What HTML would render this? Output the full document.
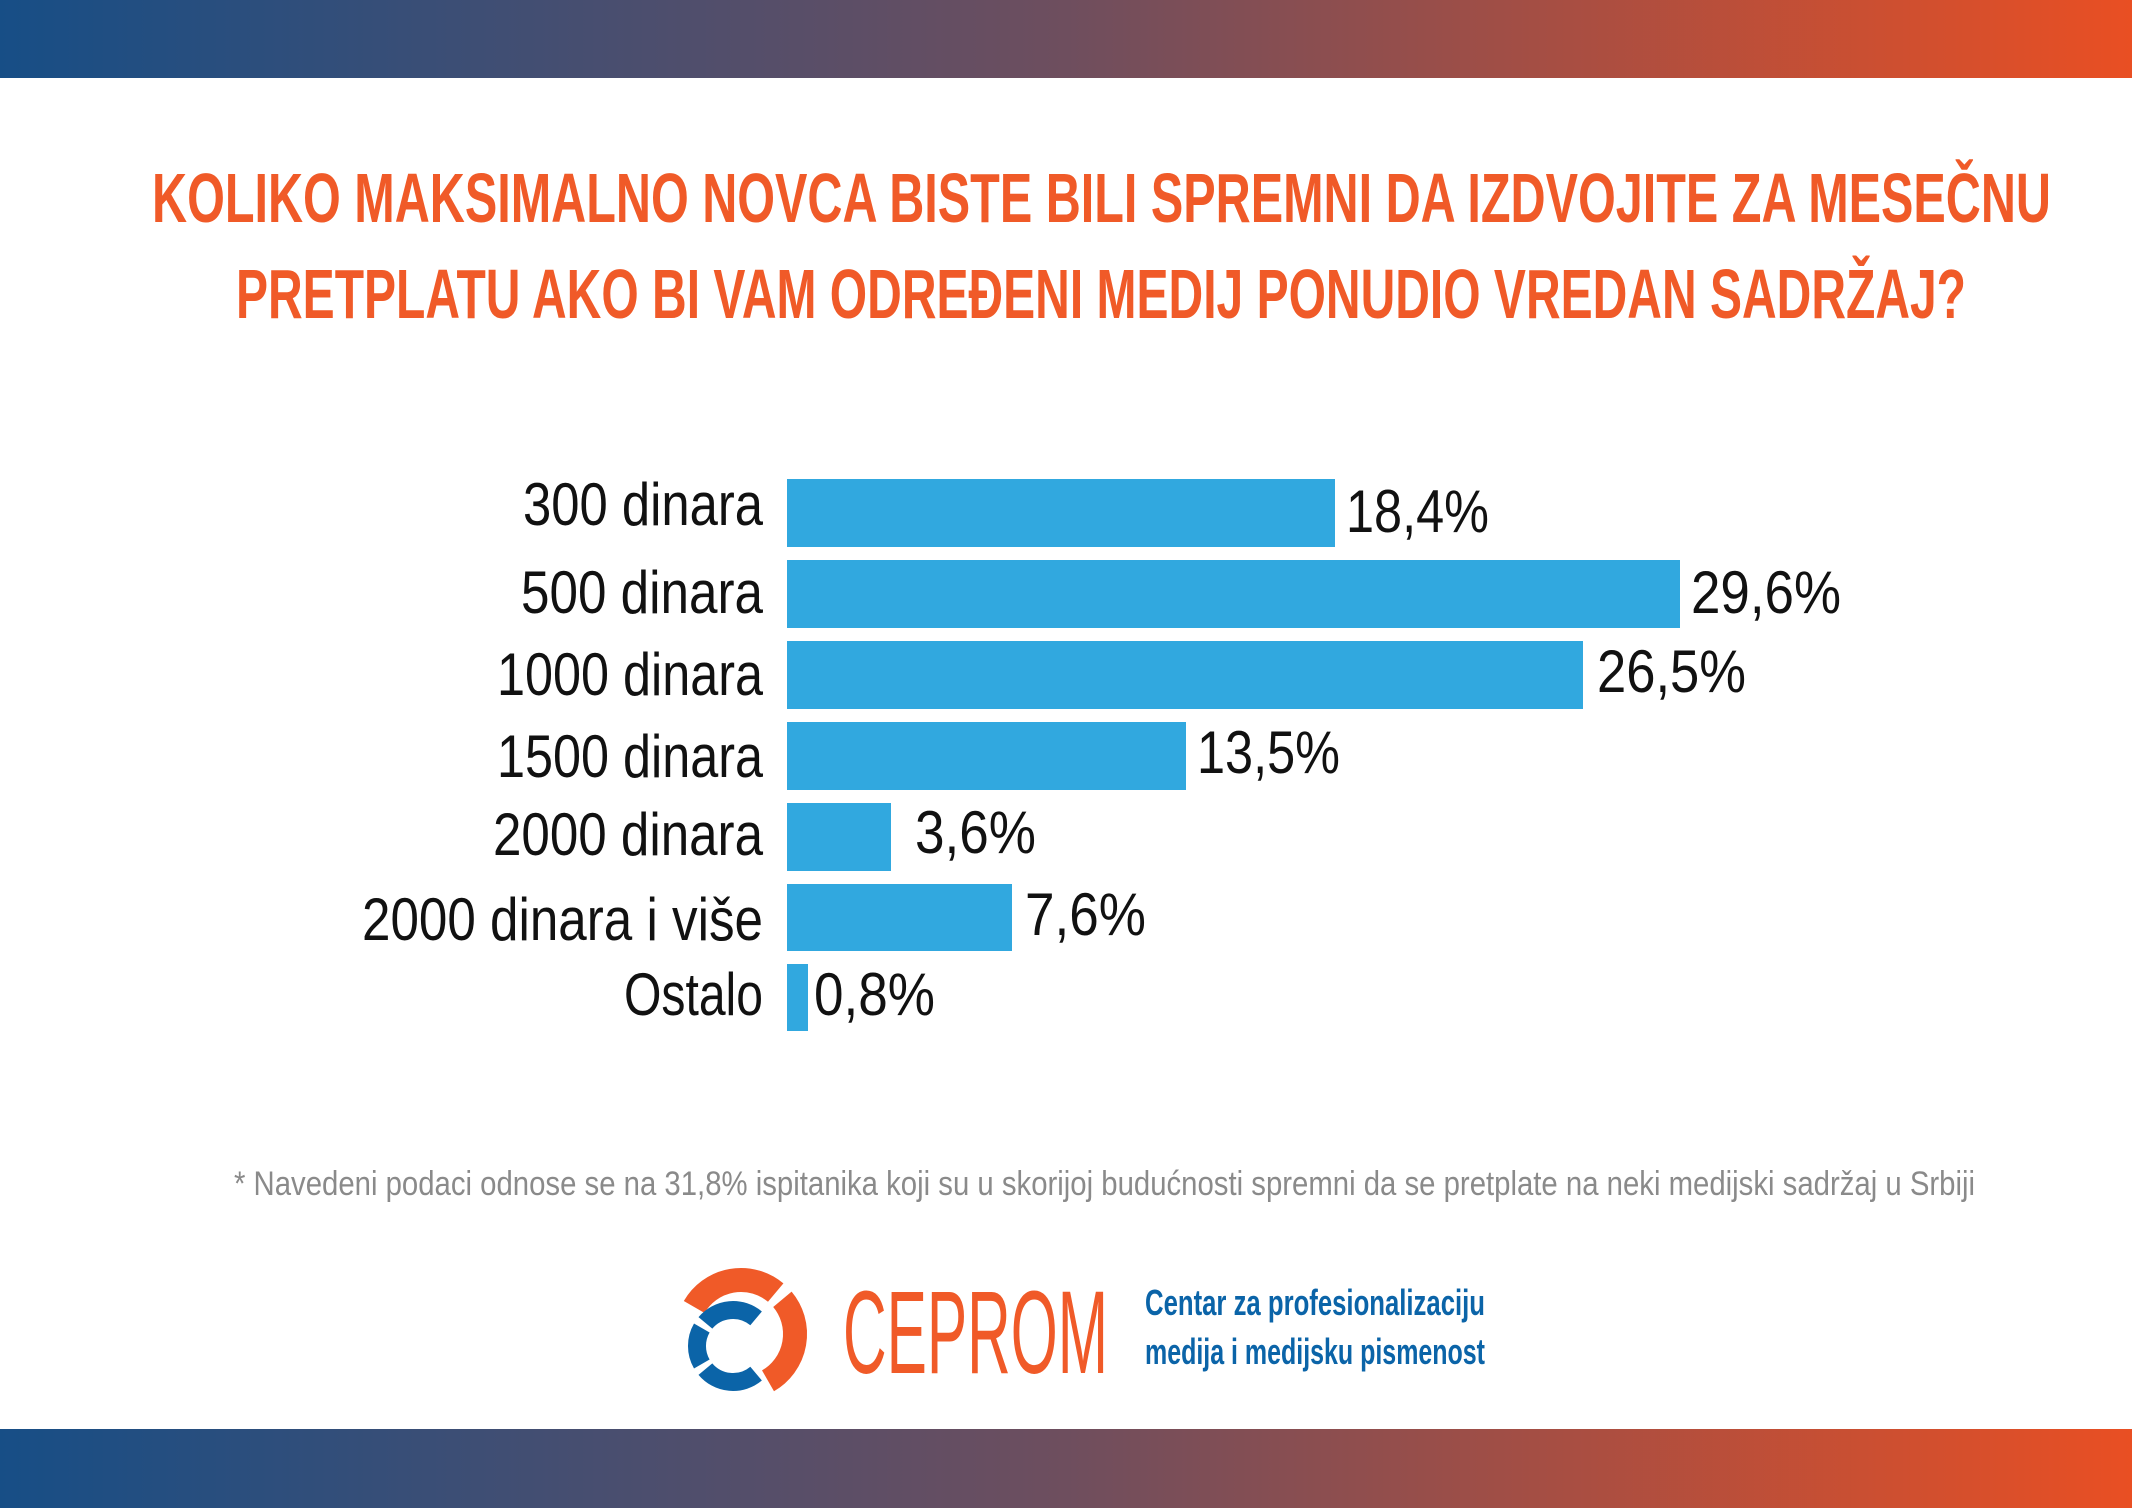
<!DOCTYPE html>
<html><head><meta charset="utf-8"><style>html,body{margin:0;padding:0;background:#fff}svg{display:block}</style></head>
<body>
<svg width="2132" height="1508" viewBox="0 0 2132 1508" xmlns="http://www.w3.org/2000/svg">
<defs><linearGradient id="g" x1="0" x2="1" y1="0" y2="0"><stop offset="0" stop-color="#174e86"/><stop offset="0.5" stop-color="#6e4e5e"/><stop offset="1" stop-color="#e94f23"/></linearGradient></defs>
<rect x="0" y="0" width="2132" height="1508" fill="#fff"/>
<rect x="0" y="0" width="2132" height="78" fill="url(#g)"/>
<rect x="0" y="1429" width="2132" height="79" fill="url(#g)"/>
<g font-family="Liberation Sans, sans-serif" font-weight="bold" fill="#f05a28" font-size="70">
<text x="152" y="222" textLength="1899" lengthAdjust="spacingAndGlyphs">KOLIKO MAKSIMALNO NOVCA BISTE BILI SPREMNI DA IZDVOJITE ZA MESEČNU</text>
<text x="236" y="318" textLength="1730" lengthAdjust="spacingAndGlyphs">PRETPLATU AKO BI VAM ODREĐENI MEDIJ PONUDIO VREDAN SADRŽAJ?</text>
</g>
<g fill="#31a8df">
<rect x="787" y="479" width="548" height="68"/>
<rect x="787" y="560" width="893" height="68"/>
<rect x="787" y="641" width="796" height="68"/>
<rect x="787" y="722" width="399" height="68"/>
<rect x="787" y="803" width="104" height="68"/>
<rect x="787" y="884" width="225" height="67"/>
<rect x="787" y="964" width="21" height="67"/>
</g>
<g font-family="Liberation Sans, sans-serif" font-size="60" fill="#111">
<g text-anchor="end">
<text x="763" y="525" textLength="240" lengthAdjust="spacingAndGlyphs">300 dinara</text>
<text x="763" y="613" textLength="242" lengthAdjust="spacingAndGlyphs">500 dinara</text>
<text x="763" y="695" textLength="266" lengthAdjust="spacingAndGlyphs">1000 dinara</text>
<text x="763" y="777" textLength="266" lengthAdjust="spacingAndGlyphs">1500 dinara</text>
<text x="763" y="855" textLength="270" lengthAdjust="spacingAndGlyphs">2000 dinara</text>
<text x="763" y="940" textLength="401" lengthAdjust="spacingAndGlyphs">2000 dinara i više</text>
<text x="763" y="1015" textLength="139" lengthAdjust="spacingAndGlyphs">Ostalo</text>
</g>
<text x="1346" y="532" textLength="143" lengthAdjust="spacingAndGlyphs">18,4%</text>
<text x="1691" y="613" textLength="150" lengthAdjust="spacingAndGlyphs">29,6%</text>
<text x="1597" y="692" textLength="149" lengthAdjust="spacingAndGlyphs">26,5%</text>
<text x="1197" y="773" textLength="143" lengthAdjust="spacingAndGlyphs">13,5%</text>
<text x="915" y="853" textLength="121" lengthAdjust="spacingAndGlyphs">3,6%</text>
<text x="1025" y="935" textLength="121" lengthAdjust="spacingAndGlyphs">7,6%</text>
<text x="814" y="1015" textLength="121" lengthAdjust="spacingAndGlyphs">0,8%</text>
</g>
<text x="234" y="1195" font-family="Liberation Sans, sans-serif" font-size="34" fill="#8a8a8a" textLength="1741" lengthAdjust="spacingAndGlyphs">* Navedeni podaci odnose se na 31,8% ispitanika koji su u skorijoj budućnosti spremni da se pretplate na neki medijski sadržaj u Srbiji</text>
<g fill="none" stroke-width="24" stroke="#f05a28">
<path d="M694.2,1307 A54,54 0 0 1 775.7,1292.6"/>
<path d="M782.4,1299.3 A54,54 0 0 1 768,1380.8"/>
</g>
<g fill="none" stroke-width="18" stroke="#0b64a8">
<path d="M705.4,1322.9 A36,36 0 0 1 756.1,1318.4"/>
<path d="M701.8,1364 A36,36 0 0 1 701.8,1328"/>
<path d="M756.1,1373.6 A36,36 0 0 1 705.4,1369.1"/>
</g>
<text x="843" y="1373" font-family="Liberation Sans, sans-serif" font-size="118" fill="#f05a28" textLength="265" lengthAdjust="spacingAndGlyphs">CEPROM</text>
<g font-family="Liberation Sans, sans-serif" font-weight="bold" font-size="36" fill="#0b64a8">
<text x="1145" y="1315" textLength="340" lengthAdjust="spacingAndGlyphs">Centar za profesionalizaciju</text>
<text x="1145" y="1364" textLength="340" lengthAdjust="spacingAndGlyphs">medija i medijsku pismenost</text>
</g>
</svg>
</body></html>
